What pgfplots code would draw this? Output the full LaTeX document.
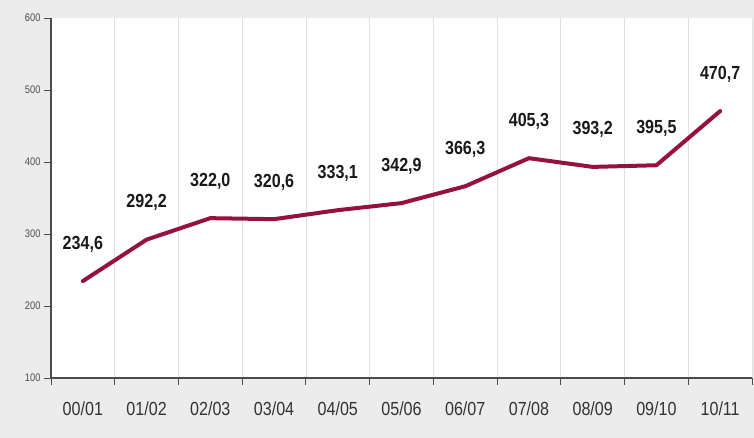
\documentclass[border=0pt]{standalone}
\usepackage{fontspec}
\setmainfont{Liberation Sans}[FakeStretch=0.85]
\usepackage{pgfplots}
\pgfplotsset{compat=1.18}
\definecolor{bg}{RGB}{236,236,236}
\definecolor{linered}{RGB}{150,18,62}

\begin{document}
\begin{tikzpicture}
\fill[bg] (-51bp,-60bp) rectangle (703bp,378bp);
\begin{axis}[
    scale only axis,
    width=701bp, height=360bp,
    xmin=0, xmax=11, ymin=100, ymax=600,
    axis x line*=bottom, axis y line*=left,
    axis background/.style={fill=white},
    axis line style={black!70, line width=1.4bp},
    xtick={0,...,11},
    xticklabels={00/01,01/02,02/03,03/04,04/05,05/06,06/07,07/08,08/09,09/10,10/11},
    x tick label as interval,
    ytick={100,200,...,600},
    tick align=outside,
    major tick length=7bp,
    tick style={black!70, line width=1bp},
    xmajorgrids,
    major grid style={black!12, line width=0.8bp},
    xticklabel style={font=\fontsize{19}{19}\selectfont, text=black!80, yshift=-13bp},
    yticklabel style={font=\fontsize{11}{11}\selectfont, text=black!70},
    /pgf/number format/assume math mode=true,
]
\addplot[linered, line width=4bp, line join=round, line cap=round,
    point meta=y,
    nodes near coords={\pgfmathprintnumber[fixed,fixed zerofill,precision=1,use comma,assume math mode=true]{\pgfplotspointmeta}},
    nodes near coords style={font=\bfseries\fontsize{19}{19}\selectfont, text=black!90, anchor=base, inner sep=0pt, yshift=32bp},
] table {
x y
0.5 234.6
1.5 292.2
2.5 322.0
3.5 320.6
4.5 333.1
5.5 342.9
6.5 366.3
7.5 405.3
8.5 393.2
9.5 395.5
10.5 470.7
};
\end{axis}
\pgfresetboundingbox
\path (-51bp,-60bp) rectangle (703bp,378bp);
\end{tikzpicture}
\end{document}
